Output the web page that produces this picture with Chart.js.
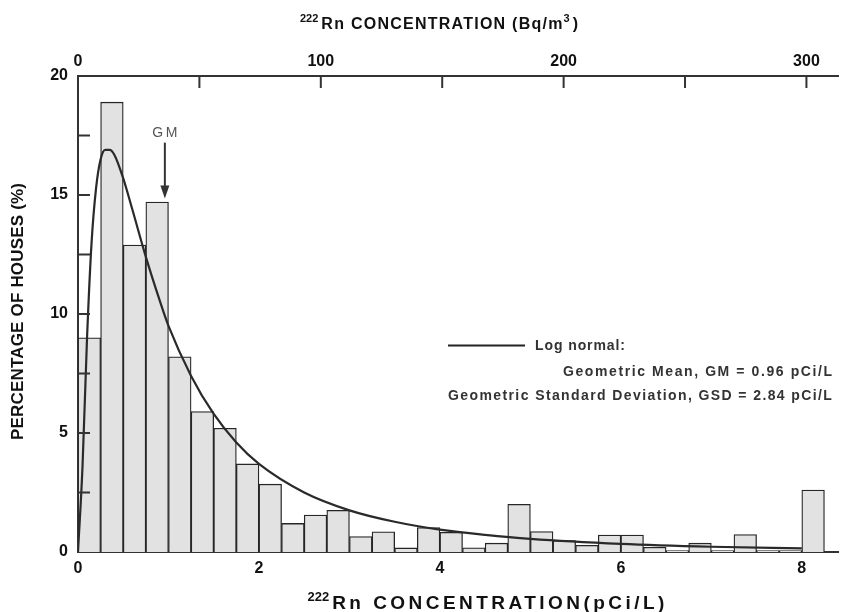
<!DOCTYPE html>
<html>
<head>
<meta charset="utf-8">
<title>Radon concentration histogram</title>
<script src="https://cdn.jsdelivr.net/npm/chart.js@4.4.1/dist/chart.umd.min.js"></script>
<style>
  html, body { margin: 0; padding: 0; background: #fff; }
  #wrap { width: 848px; height: 612px; }
</style>
</head>
<body>
<div id="wrap"><canvas id="radonChart" width="848" height="612"></canvas></div>
<script>
//! =============== Data =============== //
// centre of each 0.25 pCi/L bin
const binCenters = [
  0.125, 0.375, 0.625, 0.875, 1.125, 1.375, 1.625, 1.875,
  2.125, 2.375, 2.625, 2.875, 3.125, 3.375, 3.625, 3.875,
  4.125, 4.375, 4.625, 4.875, 5.125, 5.375, 5.625, 5.875,
  6.125, 6.375, 6.625, 6.875, 7.125, 7.375, 7.625, 7.875, 8.125
];
// percentage of houses in each bin
const housePct = [
  9.0, 18.9, 12.9, 14.7, 8.2, 5.9, 5.2, 3.7,
  2.85, 1.2, 1.55, 1.75, 0.65, 0.85, 0.17, 1.03,
  0.83, 0.18, 0.37, 2.0, 0.86, 0.48, 0.28, 0.71,
  0.71, 0.2, 0.06, 0.37, 0.06, 0.73, 0.06, 0.06, 2.6
];
// log normal curve
const fitX   = [0, 0.05, 0.1, 0.15, 0.2, 0.25, 0.3, 0.35, 0.4, 0.5, 0.6, 0.75, 0.9, 1.0, 1.25, 1.5, 1.75, 2.0, 2.5, 3.0, 3.5, 4.0, 4.5, 5.0, 6.0, 7.0, 8.0];
const fitPct = [0, 3.6, 9.0, 13.0, 15.3, 16.5, 16.9, 16.9, 16.7, 15.7, 14.4, 12.4, 10.6, 9.5, 7.4, 5.8, 4.6, 3.7, 2.5, 1.75, 1.27, 0.94, 0.72, 0.55, 0.34, 0.22, 0.15];

const pciTicks = [0, 2, 4, 6, 8];
const bqTicks = [0, 100, 200, 300];
const bqMinorTicks = [50, 100, 150, 200, 250, 300];
const pctTicks = [0, 5, 10, 15, 20];
const pctMinorTicks = [2.5, 5, 7.5, 10, 12.5, 15, 17.5];
const geoMean = 0.96;

const pciMax = 8.4;
const bqAxisMax = 313;

const FONT = "'Liberation Sans', Arial, Helvetica, sans-serif";


//! =============== Helpers =============== //
// draw text stretched (letter spacing) to a given width
function fitText(ctx, text, x, y, width, align) {
  ctx.letterSpacing = '0px';
  const natural = ctx.measureText(text).width;
  const gap = (width - natural) / Math.max(text.length - 1, 1);
  ctx.letterSpacing = gap.toFixed(2) + 'px';
  ctx.textAlign = 'left';
  let startX = x;
  if (align === 'center') startX = x - width / 2;
  if (align === 'right') startX = x - width;
  ctx.fillText(text, startX, y);
  ctx.letterSpacing = '0px';
}

// title made of normal and superscript pieces, spread over a width
function supTitle(ctx, parts, cx, y, width, size) {
  const supSize = Math.round(size * 0.7);
  let natural = 0, chars = 0;
  ctx.letterSpacing = '0px';
  parts.forEach(p => {
    ctx.font = 'bold ' + (p.sup ? supSize : size) + 'px ' + FONT;
    p.w = ctx.measureText(p.t).width + (p.sup ? 3 : 0);
    natural += p.w;
    if (!p.sup) chars += p.t.length;
  });
  const gap = (width - natural) / (chars - 1);
  let px = cx - width / 2;
  ctx.textAlign = 'left';
  parts.forEach(p => {
    ctx.font = 'bold ' + (p.sup ? supSize : size) + 'px ' + FONT;
    if (p.sup) {
      ctx.letterSpacing = '0px';
      ctx.fillText(p.t, px, y - size * 0.36);
      px += p.w;
    } else {
      ctx.letterSpacing = gap.toFixed(2) + 'px';
      ctx.fillText(p.t, px, y);
      px += p.w + gap * p.t.length;
    }
  });
  ctx.letterSpacing = '0px';
}

const decor = {
  id: 'decor',
  afterDraw(chart) {
    const { ctx, chartArea: a } = chart;
    const { x, x2, y } = chart.scales;
    ctx.save();

    // inward tick marks
    ctx.strokeStyle = '#333';
    ctx.lineWidth = 2;
    pctMinorTicks.forEach(v => {
      const py = y.getPixelForValue(v);
      ctx.beginPath(); ctx.moveTo(a.left, py); ctx.lineTo(a.left + 12, py); ctx.stroke();
    });
    bqMinorTicks.forEach(v => {
      const px = x2.getPixelForValue(v);
      ctx.beginPath(); ctx.moveTo(px, a.top); ctx.lineTo(px, a.top + 12); ctx.stroke();
    });

    // axis titles
    ctx.fillStyle = '#111';
    ctx.textBaseline = 'middle';
    supTitle(ctx, [
      { t: '222', sup: true },
      { t: 'Rn CONCENTRATION (Bq/m', sup: false },
      { t: '3', sup: true },
      { t: ')', sup: false }
    ], 439, 25, 278, 16);
    supTitle(ctx, [
      { t: '222', sup: true },
      { t: 'Rn CONCENTRATION(pCi/L)', sup: false }
    ], 486, 604, 357, 19);
    ctx.save();
    ctx.translate(18.5, 311.5);
    ctx.rotate(-Math.PI / 2);
    ctx.font = 'bold 17px ' + FONT;
    fitText(ctx, 'PERCENTAGE OF HOUSES (%)', 0, 0, 257, 'center');
    ctx.restore();

    // GM arrow
    const gx = x.getPixelForValue(geoMean);
    const yTop = y.getPixelForValue(17.2);
    const yTip = y.getPixelForValue(14.85);
    ctx.strokeStyle = '#333';
    ctx.fillStyle = '#333';
    ctx.lineWidth = 2;
    ctx.beginPath(); ctx.moveTo(gx, yTop); ctx.lineTo(gx, yTip - 8); ctx.stroke();
    ctx.beginPath();
    ctx.moveTo(gx - 4.5, yTip - 13);
    ctx.lineTo(gx + 4.5, yTip - 13);
    ctx.lineTo(gx, yTip);
    ctx.closePath(); ctx.fill();
    ctx.fillStyle = '#555';
    ctx.font = '14px ' + FONT;
    fitText(ctx, 'GM', gx, y.getPixelForValue(17.6), 25, 'center');

    // legend
    ctx.strokeStyle = '#222';
    ctx.lineWidth = 2;
    ctx.beginPath(); ctx.moveTo(448, 345.5); ctx.lineTo(525, 345.5); ctx.stroke();
    ctx.fillStyle = '#333';
    ctx.font = 'bold 14px ' + FONT;
    fitText(ctx, 'Log normal:', 535, 346, 90, 'left');
    fitText(ctx, 'Geometric Mean, GM = 0.96 pCi/L', 832, 372, 269, 'right');
    fitText(ctx, 'Geometric Standard Deviation, GSD = 2.84 pCi/L', 832, 396, 384, 'right');

    ctx.restore();
  }
};


//! =============== Chart.JS =============== //
const tickFont = { family: FONT, size: 16, weight: 'bold' };
const axisBorder = { display: true, color: '#333', width: 2 };

const ctx = document.getElementById('radonChart').getContext('2d');

const radonChart = new Chart(ctx, {
  type: 'bar',
  data: {
    datasets: [
      {
        type: 'line',
        data: fitX.map((v, i) => ({ x: v, y: fitPct[i] })),
        borderColor: '#2a2a2a',
        borderWidth: 2.2,
        pointRadius: 0,
        fill: false,
        cubicInterpolationMode: 'monotone'
      },
      {
        type: 'bar',
        data: binCenters.map((v, i) => ({ x: v, y: housePct[i] })),
        backgroundColor: '#e2e2e2',
        borderColor: '#262626',
        borderWidth: 1.3,
        barPercentage: 1,
        categoryPercentage: 1
      }
    ]
  },
  plugins: [decor],
  options: {
    responsive: false,
    animation: false,
    layout: { padding: { left: 0, top: 0, right: 10, bottom: 0 } },
    plugins: {
      legend: { display: false },
      tooltip: { enabled: false }
    },
    scales: {
      x: {
        type: 'linear', position: 'bottom', min: 0, max: pciMax, offset: false,
        grid: { display: false, drawTicks: false },
        border: axisBorder,
        afterBuildTicks: s => { s.ticks = pciTicks.map(v => ({ value: v })); },
        afterFit: s => { s.height = 60; },
        ticks: { font: tickFont, color: '#111', padding: 7, maxRotation: 0, autoSkip: false }
      },
      x2: {
        type: 'linear', position: 'top', min: 0, max: bqAxisMax, offset: false,
        grid: { display: false, drawTicks: false },
        border: axisBorder,
        afterBuildTicks: s => { s.ticks = bqTicks.map(v => ({ value: v })); },
        afterFit: s => { s.height = 76; },
        ticks: { font: tickFont, color: '#111', padding: 5, maxRotation: 0, autoSkip: false }
      },
      y: {
        type: 'linear', position: 'left', min: 0, max: 20,
        grid: { display: false, drawTicks: false },
        border: axisBorder,
        afterBuildTicks: s => { s.ticks = pctTicks.map(v => ({ value: v })); },
        afterFit: s => { s.width = 78; },
        ticks: { font: tickFont, color: '#111', padding: 10 }
      }
    }
  }
});
</script>
</body>
</html>
